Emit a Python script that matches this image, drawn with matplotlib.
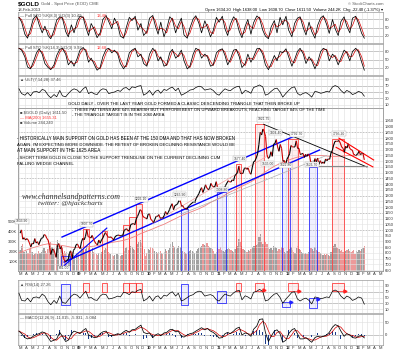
import numpy as np
import pandas as pd
import matplotlib
matplotlib.use("Agg")
import matplotlib.pyplot as plt
import matplotlib.dates as mdates
from matplotlib.collections import LineCollection
from matplotlib.patches import Rectangle

plt.rcParams['font.family'] = ['Liberation Sans', 'DejaVu Sans']

# ---- data ----
# weekly gold closes, first week 2008-03-07
gold_close = [
    973, 1001, 920, 933, 913, 925, 915, 887, 853, 884, 879, 925, 887, 898, 872, 904, 929, 932, 960, 955,
    927, 913, 864, 787, 829, 833, 802, 762, 863, 882, 835, 858, 785, 738, 724, 735, 743, 797, 815, 752,
    823, 838, 872,
    878, 853, 838, 897, 928, 914, 944, 1002, 942, 940, 930, 953, 923, 897, 880, 871, 913, 885, 914, 930,
    958, 978, 957, 938, 936, 940, 930, 912, 937, 950, 954, 956, 948, 953, 955, 996, 1006, 1010, 990, 1003,
    1049, 1052, 1057, 1045, 1096, 1118, 1146, 1177, 1168, 1120, 1110, 1105,
    1096, 1138, 1139, 1092, 1083, 1064, 1093, 1120, 1118, 1134, 1103, 1106, 1105, 1126, 1161, 1137, 1152, 1179,
    1209, 1229, 1177, 1213, 1219, 1227, 1256, 1256, 1208, 1211, 1189, 1189, 1181, 1203, 1215, 1227, 1236, 1246,
    1246, 1275, 1297, 1317, 1346, 1369, 1327, 1358, 1394, 1366, 1352, 1362, 1406, 1385, 1376, 1380, 1421,
    1369, 1360, 1343, 1341, 1348, 1360, 1388, 1409, 1429, 1420, 1418, 1437, 1429, 1474, 1486, 1504, 1556, 1492,
    1493, 1492, 1536, 1542, 1529, 1539, 1500, 1486, 1542, 1594, 1601, 1628, 1663, 1746, 1852, 1828, 1880, 1856,
    1814, 1657, 1624, 1635, 1682, 1642, 1747, 1755, 1788, 1724, 1686, 1745, 1711, 1598, 1606, 1564,
    1617, 1638, 1664, 1736, 1725, 1723, 1725, 1777, 1711, 1712, 1658, 1663, 1668, 1632, 1660, 1642, 1663, 1645,
    1580, 1592, 1571, 1622, 1591, 1627, 1572, 1604, 1580, 1592, 1580, 1619, 1604, 1620, 1616, 1671, 1692, 1740,
    1772, 1773, 1772, 1780, 1757, 1724, 1712, 1677, 1731, 1714, 1751, 1712, 1701, 1696, 1658, 1656,
    1656, 1662, 1687, 1658, 1667, 1667, 1611,
]
# weekly volume, thousands
gold_volume = [
    210, 250, 280, 190, 170, 200, 180, 220, 240, 190, 160, 175, 185, 170, 200, 180, 190, 210, 230, 200,
    185, 220, 260, 300, 240, 210, 230, 280, 320, 260, 250, 240, 230, 200, 180, 190, 170, 200, 210, 190,
    160, 150, 180,
    170, 180, 200, 230, 210, 190, 220, 260, 240, 200, 210, 230, 190, 180, 170, 160, 180, 170, 190, 200,
    210, 230, 220, 190, 180, 170, 160, 150, 165, 175, 170, 160, 155, 160, 165, 200, 230, 240, 210, 200,
    250, 240, 220, 210, 260, 280, 300, 320, 290, 260, 220, 150,
    180, 220, 210, 240, 230, 220, 200, 190, 180, 190, 200, 180, 170, 190, 220, 200, 210, 230, 280, 300,
    260, 240, 220, 230, 250, 240, 230, 200, 190, 180, 170, 190, 200, 210, 200, 190, 180, 200, 220, 230,
    240, 260, 280, 270, 250, 290, 260, 240, 230, 220, 200, 170, 190,
    230, 220, 240, 210, 200, 190, 210, 220, 230, 220, 210, 200, 190, 220, 240, 260, 330, 300, 250, 220,
    210, 200, 190, 210, 200, 220, 240, 260, 250, 270, 280, 350, 380, 300, 280, 260, 300, 280, 240, 220,
    230, 210, 250, 240, 230, 200, 220, 210, 240, 230, 190, 180,
    200, 210, 220, 240, 210, 190, 180, 230, 250, 220, 210, 190, 180, 170, 180, 170, 190, 210, 230, 220,
    200, 240, 210, 200, 190, 180, 170, 160, 175, 165, 170, 160, 150, 190, 210, 260, 280, 240, 230, 220,
    200, 210, 190, 180, 200, 210, 220, 200, 190, 200, 210, 170,
    200, 190, 210, 200, 220, 230, 250,
]
# 200-day moving average, monthly from 2008-03
ma200 = [800, 820, 840, 855, 870, 880, 875, 868, 860, 850,
         848, 850, 855, 860, 870, 880, 892, 900, 910, 925, 945, 970,
         990, 1010, 1030, 1050, 1075, 1100, 1125, 1145, 1165, 1185, 1210, 1240,
         1265, 1290, 1320, 1345, 1370, 1395, 1420, 1450, 1490, 1525, 1555, 1580,
         1600, 1620, 1635, 1645, 1650, 1650, 1650, 1645, 1640, 1642, 1646, 1650,
         1652, 1655]
# indicators, twice a month from 2008-03-01
sto8 = [88, 70, 25, 10, 45, 82, 95, 60, 30, 55, 20, 8, 40, 78, 90, 85, 35, 15, 60, 30,
        75, 92, 88, 50, 20, 65, 40, 12, 30, 80, 95, 72, 45, 85, 60, 18, 10, 50, 88, 76,
        92, 40, 65, 20, 35, 85, 95, 55, 25, 70, 15, 45, 90, 80, 30, 60, 85, 22, 10, 48,
        82, 94, 66, 30, 75, 50, 15, 38, 88, 70, 92, 45, 20, 62, 90, 78, 35, 12, 55, 80,
        25, 68, 93, 85, 40, 18, 8, 52, 76, 30, 88, 60, 92, 40, 15, 65, 85, 90, 48, 22,
        70, 35, 10, 58, 86, 94, 62, 28, 80, 45, 20, 72, 90, 55, 30, 85, 92, 66, 28, 10]
sto14 = [92, 85, 60, 22, 15, 40, 75, 90, 70, 35, 20, 12, 30, 65, 88, 92, 70, 30, 45, 25,
         55, 85, 95, 80, 40, 55, 30, 10, 20, 60, 88, 92, 75, 85, 70, 35, 15, 30, 75, 85,
         92, 60, 70, 35, 25, 70, 92, 80, 45, 60, 25, 30, 75, 88, 55, 65, 85, 45, 15, 25,
         70, 92, 85, 55, 70, 60, 25, 30, 75, 85, 90, 65, 30, 50, 85, 88, 60, 20, 35, 70,
         40, 60, 90, 92, 70, 30, 12, 35, 65, 45, 80, 75, 90, 60, 25, 50, 80, 92, 70, 35,
         60, 45, 15, 40, 80, 92, 85, 45, 70, 60, 30, 55, 85, 75, 45, 80, 92, 80, 40, 10]
ult = [60, 45, 40, 48, 38, 50, 52, 48, 58, 55, 40, 32, 42, 35, 55, 38, 35, 45, 55, 60,
       56, 48, 60, 66, 45, 50, 44, 42, 55, 60, 58, 45, 48, 50, 55, 52, 62, 64, 56, 66, 64, 68, 70, 40,
       46, 55, 40, 52, 56, 46, 58, 55, 62, 65, 54, 62, 40, 44, 50, 56, 58, 64, 68, 66, 56, 58, 60, 55,
       44, 40, 52, 60, 56, 54, 62, 66, 68, 44, 55, 52, 46, 64, 68, 72, 66, 40, 44, 52, 60, 62, 50, 34,
       46, 55, 64, 66, 46, 40, 46, 48, 42, 34, 52, 50, 46, 48, 52, 50, 66, 70, 66, 55, 46, 55, 50, 42,
       46, 52, 48, 37]
rsi = [65, 40, 38, 48, 35, 50, 52, 48, 62, 55, 35, 25, 40, 30, 55, 33, 30, 42, 55, 62,
       58, 48, 62, 72, 48, 50, 42, 40, 55, 62, 60, 45, 47, 50, 55, 52, 68, 66, 60, 70, 68, 75, 78, 38,
       45, 55, 38, 52, 56, 45, 58, 55, 65, 70, 55, 65, 38, 42, 50, 56, 60, 68, 72, 70, 55, 58, 60, 56,
       42, 38, 52, 62, 58, 55, 66, 72, 75, 42, 56, 52, 45, 68, 72, 78, 72, 38, 42, 52, 62, 64, 50, 30,
       45, 55, 68, 70, 45, 38, 45, 48, 40, 28, 52, 50, 46, 48, 52, 50, 72, 76, 70, 55, 45, 55, 50, 40,
       45, 52, 48, 27]
macd = [15, 5, -10, -15, -12, -5, 2, 5, 12, 8, -10, -25, -20, -15, 10, -5, -25, -20, 5, 15,
        10, 5, 18, 25, 0, -5, -10, -8, 5, 12, 15, 0, -3, 0, 5, 2, 12, 18, 10, 20, 22, 30, 38, 10,
        5, 8, -10, 0, 5, -3, 8, 10, 20, 22, 12, 15, -5, -8, 0, 5, 8, 15, 22, 28, 20, 25, 15, 10,
        0, -12, -10, 5, 10, 5, 15, 25, 30, 0, 8, 5, -5, 22, 35, 60, 62, 10, -25, -5, 15, 20, 5, -28,
        -20, 5, 20, 25, 5, -15, -15, -10, -20, -28, -10, -5, -8, -5, 0, 10, 30, 40, 35, 15, -5, 5, 0, -10,
        -12, -5, -2, -11]

# chart annotations: (start, end, price) boxes, trendlines, price tags
red_boxes = [('2009-02-01', '2009-03-03', 1010), ('2009-05-10', '2009-06-06', 990),
             ('2009-08-28', '2009-10-01', 1040), ('2009-10-01', '2009-11-06', 1110),
             ('2009-11-06', '2009-12-06', 1226), ('2011-04-12', '2011-05-09', 1577),
             ('2011-07-22', '2011-09-06', 1921), ('2012-01-12', '2012-03-04', 1792),
             ('2012-09-01', '2012-11-01', 1795)]
blue_boxes = [('2008-10-10', '2008-11-25', 770), ('2010-06-28', '2010-08-03', 1180),
              ('2011-01-03', '2011-02-20', 1330), ('2011-12-10', '2012-01-22', 1545),
              ('2012-05-01', '2012-06-12', 1550)]
trendlines = [('2008-10-13', 939, '2012-02-28', 1828, 'blue', 1.0),
              ('2008-10-24', 721, '2012-06-25', 1697, 'blue', 1.0),
              ('2008-10-24', 690, '2009-06-05', 1017, 'blue', 0.8),
              ('2011-09-06', 1921, '2013-03-01', 1549, 'black', 0.6),
              ('2012-05-01', 1560, '2013-03-01', 1560, '#888888', 0.8),
              ('2012-10-05', 1800, '2013-04-05', 1610, 'red', 0.8),
              ('2012-09-20', 1720, '2013-04-01', 1550, 'red', 0.8),
              ('2010-02-01', 1060, '2011-09-20', 1640, '#f4a0a0', 0.5),
              ('2010-07-01', 1140, '2012-08-01', 1650, '#b0b0b0', 0.5)]
price_tags = [('2008-03-17', 1034, '1033.90'), ('2009-02-20', 1007, '1007.70'),
              ('2009-12-03', 1226, '1226.10'), ('2010-06-21', 1266, '1265.90'),
              ('2011-01-28', 1309, '1308.80'), ('2011-05-02', 1577, '1577.40'),
              ('2011-09-06', 1921, '1921.75'), ('2011-11-08', 1804, '1804.40'),
              ('2012-02-28', 1792, '1792.70'), ('2012-10-05', 1795, '1795.20'),
              ('2011-12-29', 1523, '1522.80'), ('2012-05-16', 1527, '1526.70'),
              ('2011-09-26', 1535, '1535.00'), ('2008-10-24', 681, '681.00')]

# ---- layout helpers (pixel coords of the 400x354 picture) ----
W, H = 400, 354
LEFT, RIGHT = 18, 383
XMIN = mdates.date2num(pd.Timestamp('2008-02-25'))
XMAX = mdates.date2num(pd.Timestamp('2013-05-24'))
fig = plt.figure(figsize=(4, 3.54), dpi=100)
renderer = fig.canvas.get_renderer()

def panel(top, bottom):
    ax = fig.add_axes([LEFT / W, 1 - bottom / H, (RIGHT - LEFT) / W, (bottom - top) / H])
    ax.set_xlim(XMIN, XMAX)
    for s in ax.spines.values():
        s.set_color('#9a9a9a')
        s.set_linewidth(0.5)
    ax.tick_params(length=0, labelsize=3, pad=1, colors='#333333')
    ax.yaxis.tick_right()
    return ax

def ptext(x, y, s, **kw):
    kw.setdefault('fontsize', 3)
    return fig.text(x / W, 1 - y / H, s, va='center', **kw)

def fit(x0, x1, y, s, **kw):
    t = ptext(x0, y, s, **kw)
    w = t.get_window_extent(renderer).width
    t.set_fontsize(t.get_fontsize() * (x1 - x0) / w)
    return t

def d(s):
    return mdates.date2num(pd.Timestamp(s))

months = pd.date_range('2008-03-01', '2013-05-01', freq='MS')
mnum = mdates.date2num(months)
mlabels = [m.strftime('%y') if m.month == 1 else m.strftime('%b')[0] for m in months]

def month_grid(ax, labels=False):
    ax.set_xticks(mnum)
    ax.grid(axis='x', color='#dedede', lw=0.4, zorder=0)
    if labels:
        ax.set_xticklabels(mlabels)
        for t, m in zip(ax.get_xticklabels(), months):
            t.set_ha('left')
            if m.month == 1:
                t.set_fontweight('bold')
    else:
        ax.set_xticklabels([])

osc_x = mdates.date2num(pd.date_range('2008-03-01', periods=len(sto8), freq='SMS'))

def osc_panel(top, bottom, lim, ticks, lines):
    ax = panel(top, bottom)
    month_grid(ax)
    ax.set_ylim(*lim)
    ax.set_yticks(ticks)
    ax.grid(axis='y', color='#dedede', lw=0.4)
    for v in lines:
        ax.axhline(v, color='#8a8a8a', lw=0.5, zorder=1)
    return ax

def box(ax, a, b, lo, hi, c):
    ec = '#ff3030' if c == 'red' else '#2020ff'
    fc = '#ff8080' if c == 'red' else '#8080ff'
    ax.add_patch(Rectangle((d(a), lo), d(b) - d(a), hi - lo, facecolor=fc, alpha=0.12,
                           edgecolor='none', zorder=2))
    ax.add_patch(Rectangle((d(a), lo), d(b) - d(a), hi - lo, facecolor='none', edgecolor=ec,
                           lw=0.55, zorder=3))

# ---- stochastic panels ----
for top, bottom, k in [(12, 43, sto8), (44, 75, sto14)]:
    ax = osc_panel(top, bottom, (-8, 108), [20, 50, 80], [20, 50, 80])
    kd = pd.Series(k).rolling(2, min_periods=1).mean()
    ax.plot(osc_x, kd, color='#d40000', lw=0.5, zorder=3)
    ax.plot(osc_x, k, color='black', lw=0.55, zorder=4)

# ---- ULT panel ----
ax = osc_panel(76, 108, (0, 100), [10, 30, 50, 70, 90], [30, 50, 70])
ax.plot(osc_x, ult, color='black', lw=0.5, zorder=4)

# ---- main price panel ----
pm_top, pm_bot = 108, 271
pv = panel(pm_top, pm_bot)
pm = panel(pm_top, pm_bot)
pm.patch.set_visible(False)
pv.set_ylim(0, 1663)
pv.set_yticks([100, 200, 300, 400, 500])
pv.set_yticklabels(['100K', '200K', '300K', '400K', '500K'])
pv.yaxis.tick_left()
pv.tick_params(axis='y', pad=0.5, labelsize=2.8)
pv.set_xticks([])
wk = mdates.date2num(pd.date_range('2008-03-07', periods=len(gold_close), freq='W-FRI'))
up = [True] + [b >= a for a, b in zip(gold_close[:-1], gold_close[1:])]
pv.bar(wk, gold_volume, width=6.5, color=['#a0a0a0' if u else '#eb9a9a' for u in up],
       edgecolor='none', zorder=2)

pm.set_ylim(643, 2063)
pm.set_yticks(np.arange(650, 2000, 50))
pm.grid(axis='y', color='#e4e4e4', lw=0.4)
month_grid(pm, labels=True)
for lvl in [1000, 1150, 1300, 1450, 1850]:
    pm.axhline(lvl, color='#777777', lw=0.5, ls=(0, (2, 2)), zorder=1)

for a, b, top in red_boxes:
    box(pm, a, b, 643, top, 'red')
for a, b, top in blue_boxes:
    box(pm, a, b, 643, top, 'blue')

ma_x = mdates.date2num(pd.date_range('2008-03-01', periods=len(ma200), freq='MS'))
pm.plot(ma_x, ma200, color='#f08080', lw=0.6, zorder=4)

for a, p1, b, p2, c, lw in trendlines:
    pm.plot([d(a), d(b)], [p1, p2], color=c, lw=lw, zorder=6)

pts = np.column_stack([wk, gold_close])
segs = np.stack([pts[:-1], pts[1:]], axis=1)
pm.add_collection(LineCollection(segs, colors=['black' if u else '#cc0000' for u in up[1:]],
                                 linewidths=0.8, zorder=7))

for dt, p, s in price_tags:
    pm.text(d(dt), p + 25 if p > 700 else p - 30, s, fontsize=2.4, ha='center', va='bottom',
            color='#333333', zorder=8,
            bbox=dict(boxstyle='square,pad=0.15', fc='white', ec='#aaaaaa', lw=0.3))

# ---- RSI panel ----
pr = osc_panel(280, 313, (-3.6, 110.7), [10, 30, 50, 70, 90], [30, 70])
pr.plot(osc_x, rsi, color='black', lw=0.5, zorder=4)
rsi_boxes = [('2008-10-10', '2008-11-25', 25, 96, 'blue'), ('2009-02-01', '2009-03-03', 68, 100, 'red'),
             ('2009-05-10', '2009-06-06', 68, 100, 'red'), ('2009-08-28', '2009-10-01', 68, 100, 'red'),
             ('2009-10-01', '2009-11-06', 68, 100, 'red'), ('2009-11-06', '2009-12-06', 68, 100, 'red'),
             ('2010-06-28', '2010-08-03', 25, 96, 'blue'), ('2011-01-03', '2011-02-20', 32, 71, 'blue'),
             ('2011-04-12', '2011-05-09', 71, 100, 'red'), ('2011-07-22', '2011-09-06', 71, 100, 'red'),
             ('2011-12-10', '2012-01-22', 18, 36, 'blue'), ('2012-01-12', '2012-03-04', 71, 100, 'red'),
             ('2012-05-01', '2012-06-12', 14, 50, 'blue'), ('2012-09-01', '2012-11-01', 71, 100, 'red')]
for a, b, lo, hi, c in rsi_boxes:
    box(pr, a, b, lo, hi, c)
rsi_arrows = [('2011-09-10', 75, 'red'), ('2012-03-08', 74, 'red'), ('2012-11-05', 74, 'red'),
              ('2012-01-26', 33, 'blue'), ('2012-06-16', 45, 'blue')]
for dt, v, c in rsi_arrows:
    pr.plot(d(dt), v, marker='>', ms=2.2, color='#ff2020' if c == 'red' else '#2020ff', zorder=6)

# ---- MACD panel ----
pdm = osc_panel(314, 345, (-38.5, 80.8), [0, 50], [0])
sig = pd.Series(macd).rolling(3, min_periods=1).mean()
pdm.bar(osc_x, np.array(macd) - sig, width=4, color='#1a3a8a', zorder=3)
pdm.plot(osc_x, sig, color='#d40000', lw=0.5, zorder=4)
pdm.plot(osc_x, macd, color='black', lw=0.55, zorder=5)
month_grid(pdm, labels=True)

# ---- texts ----
ptext(18, 4, '$GOLD', fontsize=4.6, fontweight='bold')
ptext(41, 4, 'Gold - Spot Price (EOD) CME', fontsize=3.2, color='#555555')
ptext(18, 10, '18-Feb-2013', fontsize=3, color='#333333')
ptext(383, 4, '\u00a9 StockCharts.com', fontsize=3, ha='right', color='#555555')
ptext(383, 10, 'Open 1634.20  High 1638.00  Low 1608.70  Close 1611.50  Volume 244.2K  Chg -22.40 (-1.37%) \u25be',
      fontsize=3, ha='right')
ptext(20, 16, '\u2014 Full STO %K(8,3) %D(3) 10.49,', fontsize=3, color='#444444')
ptext(97, 16, '13.46', fontsize=3, color='#ff3030')
ptext(20, 48, '\u2014 Full STO %K(14,3) %D(3) 9.93,', fontsize=3, color='#444444')
ptext(97, 48, '12.68', fontsize=3, color='#ff3030')
ptext(20, 80, '\u25b2 ULT(7,14,28) 37.46', fontsize=3, color='#444444')
ptext(20, 113, '\u25a0 $GOLD (Daily) 1611.50', fontsize=3, color='#444444')
ptext(20, 118, '\u2014 MA(200) 1655.31', fontsize=3, color='#ff3030')
ptext(20, 123, '\u25a0 Volume 244,240', fontsize=3, color='#444444')
ptext(20, 285, '\u25b2 RSI(14) 27.26', fontsize=3, color='#444444')
ptext(20, 318, '\u2014 MACD(12,26,9) -11.015, -5.931, -5.084', fontsize=3, color='#444444')

fit(68, 302, 104, 'GOLD DAILY - OVER THE LAST YEAR GOLD FORMED A CLASSIC DESCENDING TRIANGLE THAT THEN BROKE UP')
fit(72, 324, 110, '- THESE PATTERNS ARE 64% BEARISH BUT PERFORM BEST ON UPWARD BREAKOUTS, REACHING TARGET 84% OF THE TIME')
fit(72, 163, 115, '- THE TRIANGLE TARGET IS IN THE 2060 AREA')
fit(17, 237, 138, '- HISTORICALLY MAIN SUPPORT ON GOLD HAS BEEN AT THE 150 DMA AND THAT HAS NOW BROKEN')
fit(17, 232, 145, "AGAIN. I'M EXPECTING MORE DOWNSIDE. THE RETEST OF BROKEN DECLINING RESISTANCE WOULD BE")
fit(17, 100, 151, 'AT MAIN SUPPORT IN THE 1625 AREA')
fit(17, 222, 158, '- SHORT TERM GOLD IS CLOSE TO THE SUPPORT TRENDLINE ON THE CURRENT DECLINING CUM')
fit(17, 73, 164, 'FALLING WEDGE CHANNEL')
fit(22, 120, 197, 'www.channelsandpatterns.com', family='Liberation Serif', style='italic', color='#333333')
fit(38, 103, 204, 'twitter: @hjackcharts', family='Liberation Serif', style='italic', color='#333333')

fig.savefig('out.png', dpi=100)
